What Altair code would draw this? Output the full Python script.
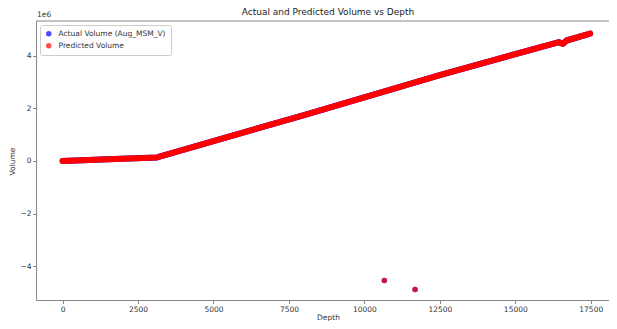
import altair as alt
import pandas as pd

# ---- data ----
line_depth = [0, 1500, 3126, 8000, 12500, 16450, 16570, 16700, 17480]
line_volume = [0, 60000, 130000, 1740000, 3260000, 4510000, 4440000, 4570000, 4830000]

outlier_depth = [10662, 11679]
outlier_volume = [-4540000, -4880000]

series_names = ["Actual Volume (Aug_MSM_V)", "Predicted Volume"]

x_ticks = [0, 2500, 5000, 7500, 10000, 12500, 15000, 17500]
y_ticks = [-4000000, -2000000, 0, 2000000, 4000000]

title_text = "Actual and Predicted Volume vs Depth"
exponent_text = "1e6"

FONT = "DejaVu Sans"

line_df = pd.DataFrame({"Depth": line_depth, "Volume": line_volume})
pts_rows = []
for s in series_names:
    for d, v in zip(outlier_depth, outlier_volume):
        pts_rows.append({"Depth": d, "Volume": v, "series": s})
pts_df = pd.DataFrame(pts_rows)
one_row = pd.DataFrame({"k": [0]})

W, H = 573, 279
x_scale = alt.Scale(domain=[-881, 18105], nice=False, zero=False)
y_scale = alt.Scale(domain=[-5.28e6, 5.31e6], nice=False, zero=False)

x_enc = alt.X("Depth:Q", scale=x_scale, title="Depth",
              axis=alt.Axis(values=x_ticks, format="d", grid=False, titleX=292,
                            titleY=19, titleBaseline="alphabetic"))
y_enc = alt.Y("Volume:Q", scale=y_scale, title="Volume",
              axis=alt.Axis(values=y_ticks, grid=False, titleX=-22, titleY=140,
                            titleBaseline="alphabetic", titleAngle=270,
                            labelExpr="replace(format(datum.value/1e6, 'd'), '-', '\u2212')"))

color_scale = alt.Scale(domain=series_names, range=["blue", "red"])

actual_line = alt.Chart(line_df).mark_line(color="blue", strokeWidth=6, strokeCap="round",
                                           strokeJoin="round").encode(x=x_enc, y=y_enc)
pred_line = alt.Chart(line_df).mark_line(color="red", strokeWidth=6, strokeCap="round",
                                         strokeJoin="round").encode(x=x_enc, y=y_enc)

actual_pts = alt.Chart(pts_df).transform_filter(
    alt.datum.series == series_names[0]
).mark_circle(size=30, opacity=0.7).encode(
    x=x_enc, y=y_enc,
    color=alt.Color("series:N", scale=color_scale, title=None,
                    legend=alt.Legend(orient="top-left", offset=4, symbolOpacity=0.7)),
)
pred_pts = alt.Chart(pts_df).transform_filter(
    alt.datum.series == series_names[1]
).mark_circle(size=30, opacity=0.7).encode(
    x=x_enc, y=y_enc,
    color=alt.Color("series:N", scale=color_scale, title=None),
)

top_spine = alt.Chart(one_row).mark_rule(color="#888", strokeWidth=1).encode(
    x=alt.value(0), x2=alt.value(W), y=alt.value(0)
)
exp_text = alt.Chart(one_row).mark_text(text=exponent_text, align="left", baseline="alphabetic",
                                        font=FONT, fontSize=7.5, color="#333").encode(
    x=alt.value(1), y=alt.value(-4)
)
title_mark = alt.Chart(one_row).mark_text(text=title_text, align="center", baseline="alphabetic",
                                          font=FONT, fontSize=9, color="#222").encode(
    x=alt.value(292), y=alt.value(-6)
)

chart = alt.layer(actual_line, pred_line, actual_pts, pred_pts, top_spine, exp_text,
                  title_mark).properties(
    width=W, height=H,
    autosize=alt.AutoSizeParams(type="none"),
    padding={"left": 28, "top": 13, "right": 0, "bottom": 21},
).configure_view(stroke=None).configure_axis(
    labelFont=FONT, titleFont=FONT, labelFontSize=7.5, titleFontSize=7.5,
    titleFontWeight="normal", labelColor="#333", titleColor="#333",
    domainColor="#888", tickColor="#888", tickSize=3.5, labelPadding=1.5,
).configure_legend(
    labelFont=FONT, labelFontSize=7.5, labelColor="#333", symbolSize=30,
    strokeColor="#ccc", fillColor="white", padding=5, cornerRadius=2,
    rowPadding=3, labelOffset=6, symbolType="circle",
)

chart.save("out.html", embed_options={"renderer": "svg", "actions": False})
